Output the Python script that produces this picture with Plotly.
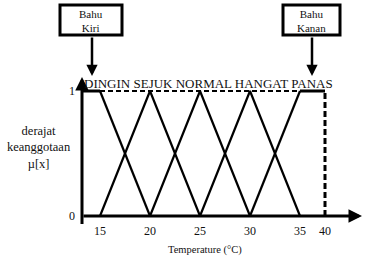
import plotly.graph_objects as go

# ---- data ----
mf_names = ["DINGIN", "SEJUK", "NORMAL", "HANGAT", "PANAS"]
dingin_x = [15, 20];      dingin_mu = [1, 0]
sejuk_x = [15, 20, 25];   sejuk_mu = [0, 1, 0]
normal_x = [20, 25, 30];  normal_mu = [0, 1, 0]
hangat_x = [25, 30, 35];  hangat_mu = [0, 1, 0]
panas_x = [30, 35];       panas_mu = [0, 1]
left_shoulder_x = [13.2, 15]   # Bahu Kiri segment (mu = 1)
right_shoulder_x = [35, 37.5]  # Bahu Kanan segment (mu = 1), drawn at the "40" mark
tick_vals = [15, 20, 25, 30, 35, 37.5]
tick_text = ["15", "20", "25", "30", "35", "40"]
y_tick_vals = [0, 1]
y_tick_text = ["0", "1"]

W, H = 367, 259
def fx(p):
    return p / W
def fy(p):
    return 1 - p / H

FONT = "Liberation Serif, Times New Roman, serif"
BLACK = "#000000"
TXT = "#111111"

fig = go.Figure()
lw = 2.2
for xs, ys in [(dingin_x, dingin_mu), (sejuk_x, sejuk_mu), (normal_x, normal_mu),
               (hangat_x, hangat_mu), (panas_x, panas_mu)]:
    fig.add_trace(go.Scatter(x=xs, y=ys, mode="lines",
                             line=dict(color=BLACK, width=lw), hoverinfo="skip"))
# dashed top line
fig.add_trace(go.Scatter(x=[left_shoulder_x[1], right_shoulder_x[1]], y=[1, 1], mode="lines",
                         line=dict(color=BLACK, width=2, dash="5px,3px"), hoverinfo="skip"))
# shoulders
fig.add_trace(go.Scatter(x=left_shoulder_x, y=[1, 1], mode="lines",
                         line=dict(color=BLACK, width=3), hoverinfo="skip"))
fig.add_trace(go.Scatter(x=right_shoulder_x, y=[1, 1], mode="lines",
                         line=dict(color=BLACK, width=3), hoverinfo="skip"))
# dashed vertical at upper bound
fig.add_trace(go.Scatter(x=[right_shoulder_x[1]] * 2, y=[0, 1], mode="lines",
                         line=dict(color=BLACK, width=3, dash="6px,3px"), hoverinfo="skip"))

annotations = []
# axes with arrows
annotations.append(dict(x=41.2, y=0, ax=13.2, ay=0, xref="x", yref="y", axref="x", ayref="y",
                        showarrow=True, arrowhead=2, arrowsize=0.9, arrowwidth=3,
                        arrowcolor=BLACK, text=""))
annotations.append(dict(x=13.2, y=1.112, ax=13.2, ay=-0.075, xref="x", yref="y", axref="x", ayref="y",
                        showarrow=True, arrowhead=2, arrowsize=0.9, arrowwidth=3,
                        arrowcolor=BLACK, text=""))
# header label
annotations.append(dict(x=fx(82), y=fy(83), xref="paper", yref="paper", xanchor="left",
                        yanchor="middle", showarrow=False, text=" ".join(mf_names),
                        font=dict(family=FONT, size=13, color=TXT)))
# y label
annotations.append(dict(x=fx(39), y=fy(147), xref="paper", yref="paper", xanchor="center",
                        yanchor="middle", showarrow=False, text="derajat<br>keanggotaan<br>µ[x]",
                        font=dict(family=FONT, size=12.5, color=TXT)))
# x title
annotations.append(dict(x=fx(205), y=fy(250), xref="paper", yref="paper", xanchor="center",
                        yanchor="middle", showarrow=False, text="Temperature (°C)",
                        font=dict(family=FONT, size=10.5, color=TXT)))
# boxes text + arrows
for cx, label, ax_px in [(91, "Bahu<br>Kiri", 92), (311.5, "Bahu<br>Kanan", 312)]:
    annotations.append(dict(x=fx(cx), y=fy(21), xref="paper", yref="paper", xanchor="center",
                            yanchor="middle", showarrow=False, text=label,
                            font=dict(family=FONT, size=11, color=TXT)))
    annotations.append(dict(x=fx(ax_px), y=fy(76), xref="paper", yref="paper",
                            ax=0, ay=-40, showarrow=True, arrowhead=2, arrowsize=0.9,
                            arrowwidth=2.5, arrowcolor=BLACK, text=""))

shapes = [
    dict(type="rect", xref="paper", yref="paper", x0=fx(60), x1=fx(122), y0=fy(35), y1=fy(5),
         line=dict(color=BLACK, width=3)),
    dict(type="rect", xref="paper", yref="paper", x0=fx(283), x1=fx(340), y0=fy(35), y1=fy(5),
         line=dict(color=BLACK, width=3)),
]

# pixel mapping: px = 100 + (x-15)*10 ; py = 216 - y*125
x_range = [15 - 100 / 10, 15 + (W - 100) / 10]
y_range = [(216 - H) / 125, 216 / 125]

fig.update_layout(
    width=W, height=H, margin=dict(l=0, r=0, t=0, b=0),
    paper_bgcolor="white", plot_bgcolor="white", showlegend=False,
    annotations=annotations, shapes=shapes,
    xaxis=dict(range=x_range, showgrid=False, zeroline=False, showline=False,
               tickmode="array", tickvals=tick_vals, ticktext=tick_text, ticks="",
               anchor="free", position=(H - 216) / H, ticklabelstandoff=6,
               tickfont=dict(family=FONT, size=12, color=TXT), fixedrange=True),
    yaxis=dict(range=y_range, showgrid=False, zeroline=False, showline=False,
               tickmode="array", tickvals=y_tick_vals, ticktext=y_tick_text, ticks="",
               anchor="free", position=82 / W, ticklabelstandoff=7,
               tickfont=dict(family=FONT, size=12, color=TXT), fixedrange=True),
)

fig.write_html("out.html")
